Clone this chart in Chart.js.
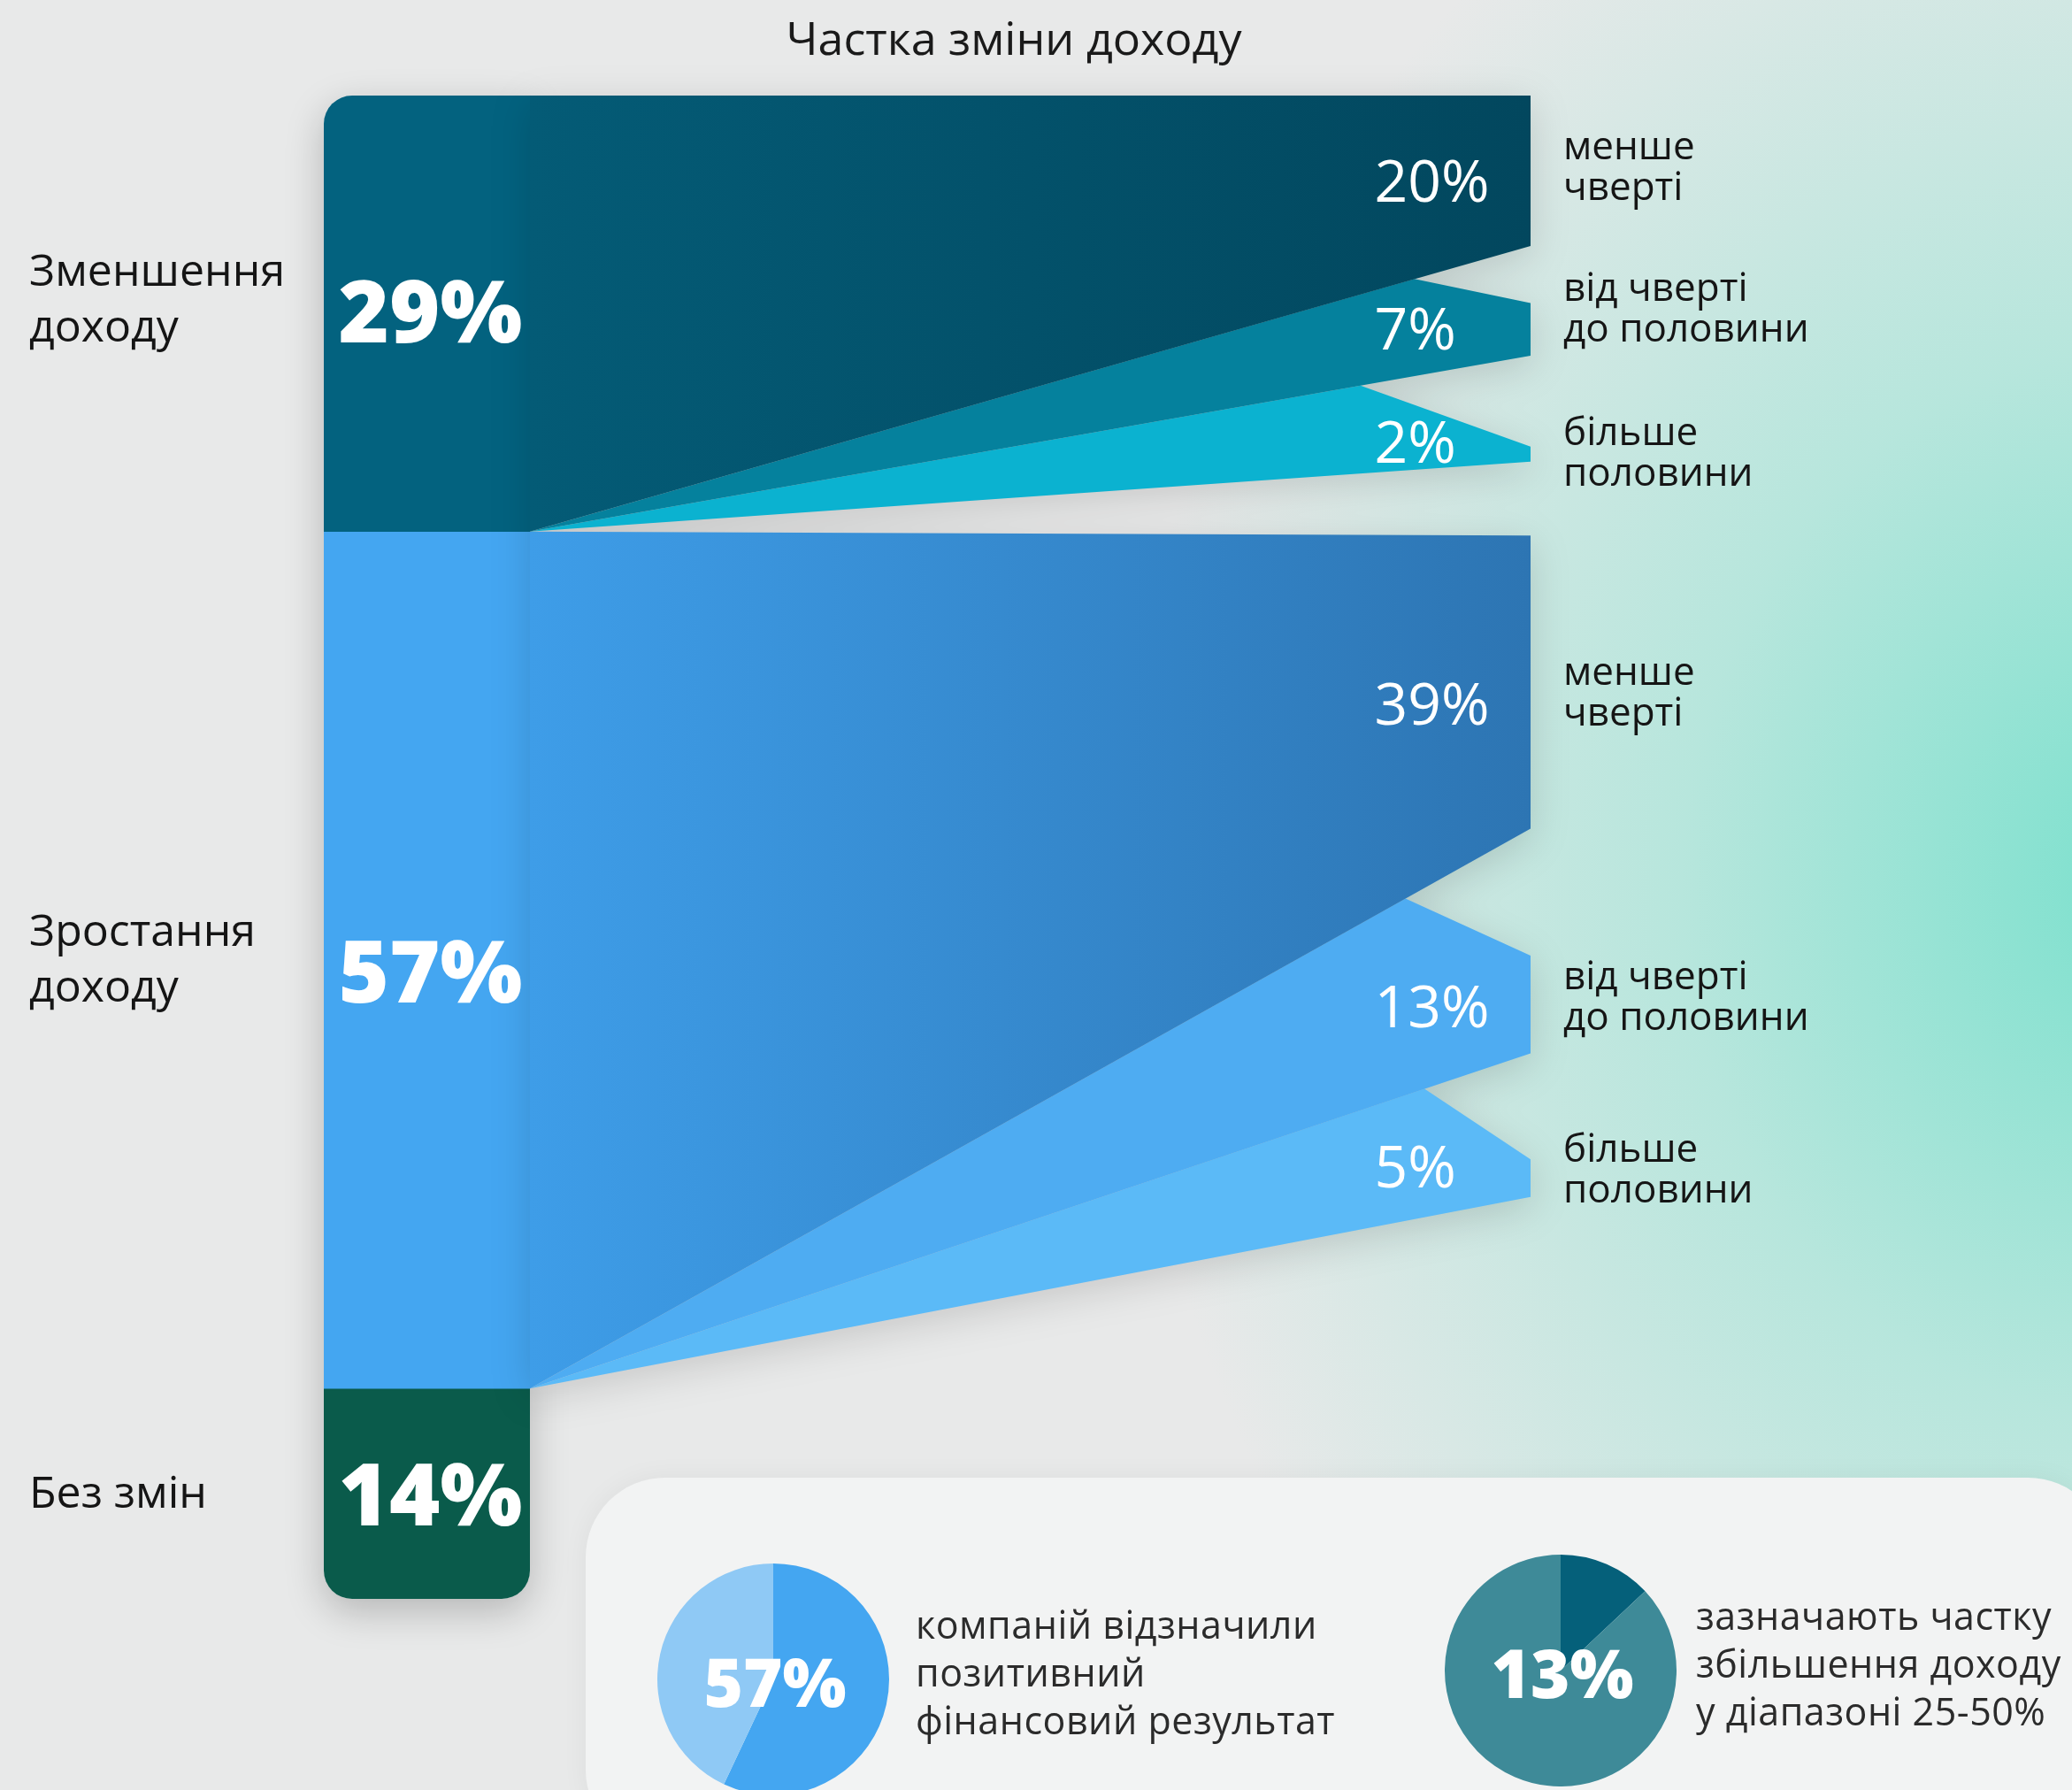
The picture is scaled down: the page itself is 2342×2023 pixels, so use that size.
<!DOCTYPE html>
<html>
<head>
<meta charset="utf-8">
<script src="https://cdn.jsdelivr.net/npm/chart.js@4.4.1/dist/chart.umd.min.js"></script>
<style>
html,body{margin:0;padding:0;}
body{
  width:2342px;height:2023px;position:relative;overflow:hidden;
  font-family:'Open Sans','Noto Sans',sans-serif;color:#161616;
  background:
    radial-gradient(ellipse 1150px 1350px at 2420px 1000px, rgba(118,224,204,0.95) 0%, rgba(150,228,212,0.6) 45%, rgba(231,232,232,0) 100%),
    #e8e9e9;
}
.abs{position:absolute;}
#title{left:0;width:2292px;top:10px;text-align:center;font-size:52px;line-height:64px;color:#1a1a1a;}
#barWrap{left:366px;top:108px;width:233px;height:1699px;border-radius:32px 0 32px 32px;overflow:hidden;
  box-shadow:0 14px 44px rgba(0,0,0,0.22);}
#flowWrap{left:599px;top:108px;width:1131px;height:1699px;filter:drop-shadow(0 10px 22px rgba(0,0,0,0.14));}
#panel{left:662px;top:1670px;width:1720px;height:420px;border-radius:90px;background:#f2f3f3;
  box-shadow:0 0 30px rgba(0,0,0,0.05);}
.grp{font-size:50px;line-height:63px;color:#151515;white-space:pre;transform:translateY(-50%);}
.barPct{font-size:98px;font-weight:800;color:#fff;transform:translate(-50%,-50%);white-space:pre;line-height:1;}
.flowPct{font-size:66px;font-weight:400;color:#fff;transform:translateY(-50%);white-space:pre;line-height:1;}
.band{font-size:44px;line-height:46px;color:#151515;white-space:pre;transform:translateY(-50%);}
.piePct{font-size:76px;font-weight:800;color:#fff;transform:translate(-50%,-50%);line-height:1;white-space:pre;}
.pieTxt{font-size:43px;line-height:54px;color:#2b2b2b;white-space:pre;transform:translateY(-50%);letter-spacing:0.5px;}
</style>
</head>
<body>
<div id="title" class="abs"></div>
<div id="barWrap" class="abs"><canvas id="barChart" width="233" height="1699"></canvas></div>
<div id="flowWrap" class="abs"><canvas id="flowChart" width="1131" height="1699"></canvas></div>
<div id="panel" class="abs"></div>
<div class="abs" style="left:743px;top:1767px;width:262px;height:262px;"><canvas id="pie1" width="262" height="262"></canvas></div>
<div class="abs" style="left:1633px;top:1757px;width:262px;height:262px;"><canvas id="pie2" width="262" height="262"></canvas></div>
<div id="labels"></div>
<script>
// ---------------- DATA ----------------
const chartTitle = 'Частка зміни доходу';
const groupLabels = ['Зменшення\nдоходу', 'Зростання\nдоходу', 'Без змін'];
const groupValues = [29, 57, 14];
const bandLabels = ['менше\nчверті', 'від чверті\nдо половини', 'більше\nполовини'];
const decreaseValues = [20, 7, 2];
const increaseValues = [39, 13, 5];
const pieValues = [57, 13];
const pieTexts = ['компаній відзначили\nпозитивний\nфінансовий результат',
                  'зазначають частку\nзбільшення доходу\nу діапазоні 25-50%'];

// ---------------- STYLE / LAYOUT ----------------
const groupColors = ['#03627f', '#44a6f1', '#0a5b4b'];
const flowColors = [
  [['#045b76', '#02475e'], '#05819d', '#0bb2d0'],
  [['#3e9de8', '#2d75b3'], '#4eacf2', '#5bbaf7']
];
const pieColors = [['#44a6f1', '#8fc9f5'], ['#05607a', '#3e8a98']];
const L = {
  barLeft: 366, barTop: 108, flowLeft: 599, flowRight: 1730,
  bandScale: 0.5,                          // right-end band thickness per % (in % of bar)
  groupRightOffset: [0, 0.26],
  gaps: [[3.8, 6.05], [8.45, 7.05]],
  notchX: [[0.884, 0.830], [0.875, 0.894]],
  pctX: 0.844, bandTextGap: 37, groupTextX: 33,
  pctDy: [[9, -3, -16], [22, 0, -15]],
  bandTextDy: [[-7, -26, -4], [9, -11, -12]],
  barPctDy: [-5, 10, -2],
  grpDy: [-18, -3, -3]
};

document.getElementById('title').textContent = chartTitle;
const labelsDiv = document.getElementById('labels');
function addLabel(cls, text, left, top) {
  const d = document.createElement('div');
  d.className = 'abs ' + cls;
  d.textContent = text;
  d.style.left = left + 'px';
  d.style.top = top + 'px';
  labelsDiv.appendChild(d);
  return d;
}

// ---------------- BAR ----------------
const barChart = new Chart(document.getElementById('barChart'), {
  type: 'bar',
  data: {
    labels: [''],
    datasets: groupValues.map((v, i) => ({
      label: groupLabels[i], data: [v], backgroundColor: groupColors[i],
      borderWidth: 0, barPercentage: 1, categoryPercentage: 1
    }))
  },
  options: {
    responsive: false, animation: false, devicePixelRatio: 1,
    layout: {padding: 0},
    plugins: {legend: {display: false}, tooltip: {enabled: false}},
    scales: {
      x: {stacked: true, display: false},
      y: {stacked: true, display: false, reverse: true, min: 0, max: 100}
    }
  }
});

// ---------------- FLOWS ----------------
function hGrad(c0, c1) {
  return (ctx) => {
    const ch = ctx.chart, a = ch.chartArea;
    if (!a) return c0;
    const g = ch.ctx.createLinearGradient(a.left, 0, a.right, 0);
    g.addColorStop(0, c0); g.addColorStop(1, c1);
    return g;
  };
}
const groupTops = [], groupBots = [];
{ let c = 0; groupValues.forEach(v => { groupTops.push(c); c += v; groupBots.push(c); }); }
const flowDatasets = [];
const bands = [];
[decreaseValues, increaseValues].forEach((vals, g) => {
  const gt = groupTops[g], gb = groupBots[g];
  let y = gt + L.groupRightOffset[g];
  let prevRB = null;
  vals.forEach((v, k) => {
    if (k > 0) y += L.gaps[g][k - 1];
    const rt = y, rb = y + v * L.bandScale;
    let top;
    if (k === 0) {
      top = [{x: 0, y: gt}, {x: 1, y: rt}];
    } else {
      const xt = L.notchX[g][k - 1];
      top = [{x: 0, y: gb}, {x: xt, y: gb + (prevRB - gb) * xt}, {x: 1, y: rt}];
    }
    const bottom = [{x: 0, y: gb}, {x: 1, y: rb}];
    const col = flowColors[g][k];
    const bg = Array.isArray(col) ? hGrad(col[0], col[1]) : col;
    flowDatasets.push({label: v + '%', data: top, fill: '+1', backgroundColor: bg,
      borderWidth: 0, pointRadius: 0, tension: 0});
    flowDatasets.push({label: '', data: bottom, fill: false, backgroundColor: 'rgba(0,0,0,0)',
      borderWidth: 0, pointRadius: 0, tension: 0});
    bands.push({g, k, v, center: (rt + rb) / 2});
    prevRB = rb; y = rb;
  });
});
const flowChart = new Chart(document.getElementById('flowChart'), {
  type: 'line',
  data: {datasets: flowDatasets},
  options: {
    responsive: false, animation: false, devicePixelRatio: 1,
    layout: {padding: 0},
    plugins: {legend: {display: false}, tooltip: {enabled: false}, filler: {propagate: false}},
    elements: {line: {borderWidth: 0}, point: {radius: 0}},
    scales: {
      x: {type: 'linear', min: 0, max: 1, display: false},
      y: {type: 'linear', min: 0, max: 100, reverse: true, display: false}
    }
  }
});

// ---------------- PIES ----------------
const pies = pieValues.map((v, i) => new Chart(document.getElementById('pie' + (i + 1)), {
  type: 'pie',
  data: {labels: ['', ''], datasets: [{data: [v, 100 - v], backgroundColor: pieColors[i], borderWidth: 0}]},
  options: {
    responsive: false, animation: false, devicePixelRatio: 1, layout: {padding: 0},
    plugins: {legend: {display: false}, tooltip: {enabled: false}}
  }
}));

// ---------------- LABELS (positioned from the chart scales) ----------------
barChart.data.datasets.forEach((ds, i) => {
  const el = barChart.getDatasetMeta(i).data[0];
  const cy = L.barTop + (el.y + el.base) / 2;
  const cx = L.barLeft + el.x;
  addLabel('barPct', groupValues[i] + '%', cx + 4, cy + L.barPctDy[i]);
  addLabel('grp', groupLabels[i], L.groupTextX, cy + L.grpDy[i]);
});
bands.forEach(b => {
  const y = L.barTop + flowChart.scales.y.getPixelForValue(b.center);
  const x = L.flowLeft + flowChart.scales.x.getPixelForValue(L.pctX);
  addLabel('flowPct', b.v + '%', x, y + L.pctDy[b.g][b.k]);
  addLabel('band', bandLabels[b.k], L.flowRight + L.bandTextGap, y + L.bandTextDy[b.g][b.k]);
});
pies.forEach((p, i) => {
  const arc = p.getDatasetMeta(0).data[0];
  const wrap = p.canvas.parentNode;
  const cx = wrap.offsetLeft + arc.x, cy = wrap.offsetTop + arc.y;
  addLabel('piePct', pieValues[i] + '%', cx + 2, cy + 2);
  addLabel('pieTxt', pieTexts[i], cx + arc.outerRadius + (i === 0 ? 30 : 22), cy - 8);
});
</script>
</body>
</html>
